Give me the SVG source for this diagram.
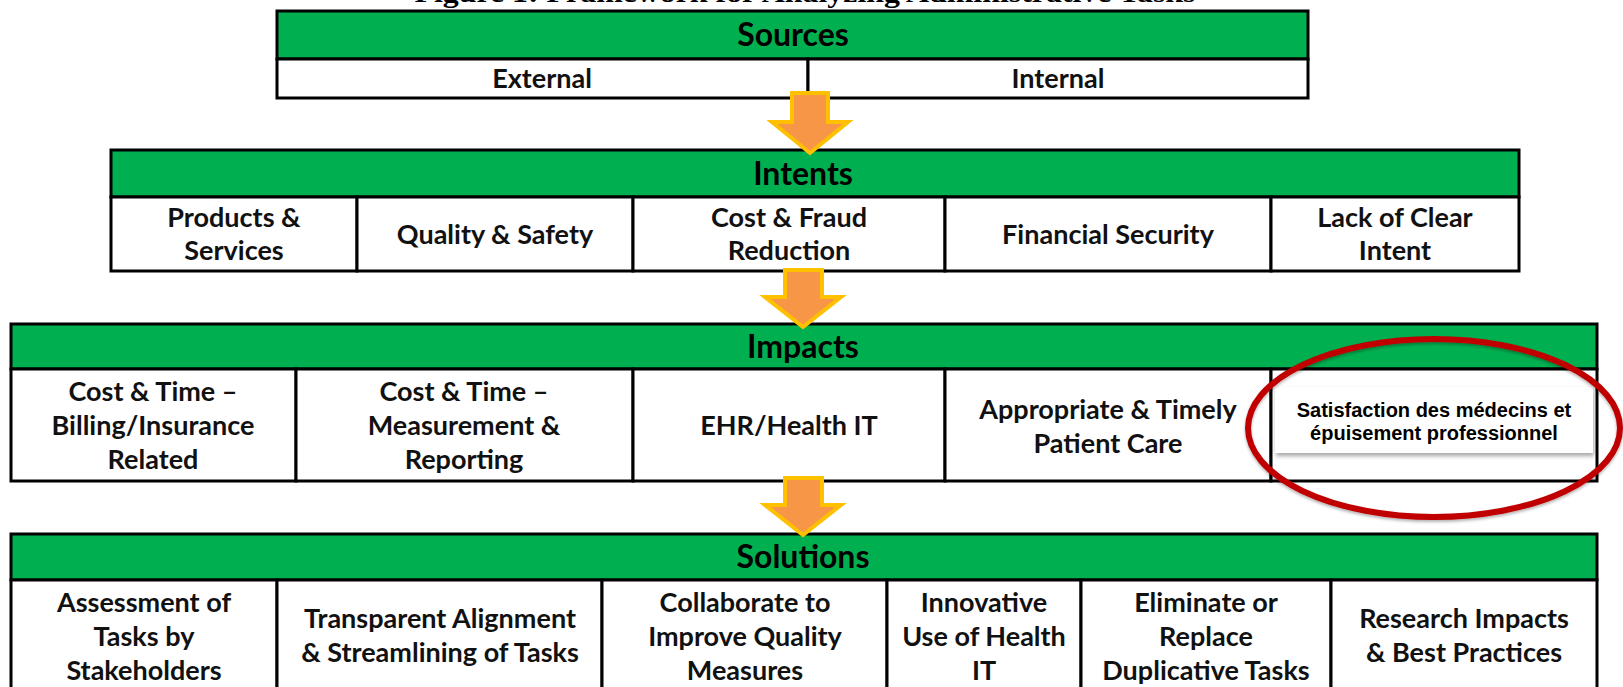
<svg xmlns="http://www.w3.org/2000/svg" width="1623" height="687" viewBox="0 0 1623 687">
<style>
.hdr{fill:#00B050;stroke:#000;stroke-width:3}
.cell{fill:#fff;stroke:#000;stroke-width:3}
.t{font-family:Lato,"Liberation Sans",sans-serif;font-weight:bold;font-size:27px;fill:#111;text-anchor:middle}
.h{font-family:Lato,"Liberation Sans",sans-serif;font-weight:bold;font-size:32px;fill:#000;text-anchor:middle}
.arr{fill:#F79646;stroke:#FFC000;stroke-width:4;stroke-linejoin:miter}
.title{font-family:"Liberation Serif","Times New Roman",serif;font-weight:bold;font-size:28px;fill:#000;text-anchor:middle}
.fr{font-family:"Liberation Sans",Arial,sans-serif;font-weight:bold;font-size:20px;fill:#000;text-anchor:middle}
</style>
<defs>
<filter id="sh" x="-10%" y="-20%" width="120%" height="150%">
<feDropShadow dx="1" dy="3" stdDeviation="2" flood-color="#000" flood-opacity="0.35"/>
</filter>
<filter id="esh" x="-10%" y="-10%" width="120%" height="130%">
<feDropShadow dx="0" dy="2" stdDeviation="1.5" flood-color="#000" flood-opacity="0.3"/>
</filter>
</defs>
<rect width="1623" height="687" fill="#fff"/>
<text class="title" x="805" y="2" textLength="781" lengthAdjust="spacingAndGlyphs">Figure 1: Framework for Analyzing Administrative  Tasks</text>

<g id="sources">
<rect class="hdr" x="277" y="11" width="1031" height="48"/>
<text class="h" x="793" y="46">Sources</text>
<g id="src-external"><rect class="cell" x="277" y="59" width="531" height="39"/><text class="t" x="542" y="88">External</text></g>
<g id="src-internal"><rect class="cell" x="808" y="59" width="500" height="39"/><text class="t" x="1058" y="88">Internal</text></g>
</g>

<g id="intents">
<rect class="hdr" x="111" y="150" width="1408" height="47"/>
<text class="h" x="803" y="185">Intents</text>
<g id="int-products"><rect class="cell" x="111" y="197" width="246" height="74"/><text class="t" x="234" y="227">Products &amp;</text><text class="t" x="234" y="260">Services</text></g>
<g id="int-quality"><rect class="cell" x="357" y="197" width="276" height="74"/><text class="t" x="495" y="244">Quality &amp; Safety</text></g>
<g id="int-cost"><rect class="cell" x="633" y="197" width="312" height="74"/><text class="t" x="789" y="227">Cost &amp; Fraud</text><text class="t" x="789" y="260">Reduction</text></g>
<g id="int-financial"><rect class="cell" x="945" y="197" width="326" height="74"/><text class="t" x="1108" y="244">Financial Security</text></g>
<g id="int-lack"><rect class="cell" x="1271" y="197" width="248" height="74"/><text class="t" x="1395" y="227">Lack of Clear</text><text class="t" x="1395" y="260">Intent</text></g>
</g>

<g id="impacts">
<rect class="hdr" x="11" y="324" width="1586" height="45"/>
<text class="h" x="803" y="358">Impacts</text>
<g id="imp-billing"><rect class="cell" x="11" y="369" width="285" height="112"/><text class="t" x="153" y="401">Cost &amp; Time –</text><text class="t" x="153" y="435">Billing/Insurance</text><text class="t" x="153" y="469">Related</text></g>
<g id="imp-measure"><rect class="cell" x="296" y="369" width="337" height="112"/><text class="t" x="464" y="401">Cost &amp; Time –</text><text class="t" x="464" y="435">Measurement &amp;</text><text class="t" x="464" y="469">Reporting</text></g>
<g id="imp-ehr"><rect class="cell" x="633" y="369" width="312" height="112"/><text class="t" x="789" y="435">EHR/Health IT</text></g>
<g id="imp-care"><rect class="cell" x="945" y="369" width="326" height="112"/><text class="t" x="1108" y="419">Appropriate &amp; Timely</text><text class="t" x="1108" y="453">Patient Care</text></g>
<g id="imp-satisfaction"><rect class="cell" x="1271" y="369" width="326" height="112"/>
<rect x="1275" y="387" width="318" height="66" fill="#fff" filter="url(#sh)"/>
<text class="fr" x="1434" y="417">Satisfaction des médecins et</text><text class="fr" x="1434" y="440">épuisement professionnel</text></g>
</g>

<g id="solutions">
<rect class="hdr" x="11" y="534" width="1586" height="46"/>
<text class="h" x="803" y="568">Solutions</text>
<g id="sol-assessment"><rect class="cell" x="11" y="580" width="266" height="120"/><text class="t" x="144" y="612">Assessment of</text><text class="t" x="144" y="646">Tasks by</text><text class="t" x="144" y="680">Stakeholders</text></g>
<g id="sol-transparent"><rect class="cell" x="277" y="580" width="325" height="120"/><text class="t" x="440" y="628">Transparent Alignment</text><text class="t" x="440" y="662">&amp; Streamlining of Tasks</text></g>
<g id="sol-collaborate"><rect class="cell" x="602" y="580" width="285" height="120"/><text class="t" x="745" y="612">Collaborate to</text><text class="t" x="745" y="646">Improve Quality</text><text class="t" x="745" y="680">Measures</text></g>
<g id="sol-innovative"><rect class="cell" x="887" y="580" width="194" height="120"/><text class="t" x="984" y="612">Innovative</text><text class="t" x="984" y="646">Use of Health</text><text class="t" x="984" y="680">IT</text></g>
<g id="sol-eliminate"><rect class="cell" x="1081" y="580" width="250" height="120"/><text class="t" x="1206" y="612">Eliminate or</text><text class="t" x="1206" y="646">Replace</text><text class="t" x="1206" y="680">Duplicative Tasks</text></g>
<g id="sol-research"><rect class="cell" x="1331" y="580" width="266" height="120"/><text class="t" x="1464" y="628">Research Impacts</text><text class="t" x="1464" y="662">&amp; Best Practices</text></g>
</g>

<g id="connectors">
<polygon class="arr" points="792,93 828,93 828,122 848,122 810,153 772,122 792,122"/>
<polygon class="arr" points="785,270 822,270 822,297 841,297 803,327 765,297 785,297"/>
<polygon class="arr" points="785,478 822,478 822,505 841,505 803,535 765,505 785,505"/>
</g>

<g id="highlight">
<ellipse cx="1434" cy="428" rx="186" ry="89" fill="none" stroke="#C00000" stroke-width="6" filter="url(#esh)"/>
</g>
</svg>
